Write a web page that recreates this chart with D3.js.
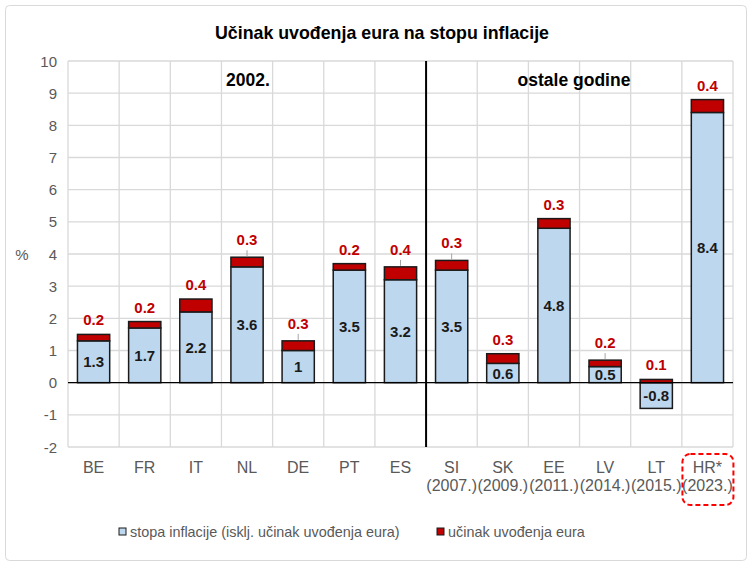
<!DOCTYPE html>
<html>
<head>
<meta charset="utf-8">
<script src="https://cdn.jsdelivr.net/npm/d3@7"></script>
<style>
  body { margin: 0; background: #fff; }
  text { font-family: "Liberation Sans", Arial, sans-serif; }
</style>
</head>
<body>
<svg id="chart_svg"></svg>
<script>
// Data
const countries = ["BE", "FR", "IT", "NL", "DE", "PT", "ES", "SI", "SK", "EE", "LV", "LT", "HR*"];
const years = ["", "", "", "", "", "", "", "(2007.)", "(2009.)", "(2011.)", "(2014.)", "(2015.)", "(2023.)"];
const inflation = [1.3, 1.7, 2.2, 3.6, 1, 3.5, 3.2, 3.5, 0.6, 4.8, 0.5, -0.8, 8.4];
const euroEffect = [0.2, 0.2, 0.4, 0.3, 0.3, 0.2, 0.4, 0.3, 0.3, 0.3, 0.2, 0.1, 0.4];
const withLeader = ["NL", "DE", "ES", "SI", "LV"];
const yTicks = [-2, -1, 0, 1, 2, 3, 4, 5, 6, 7, 8, 9, 10];

const width = 750, height = 564;
const margin = { top: 61, right: 17, bottom: 117, left: 68 };

const svg = d3.select("#chart_svg")
  .attr("width", width)
  .attr("height", height);

// outer frame
svg.append("rect")
  .attr("x", 5.5).attr("y", 5.5)
  .attr("width", width - 9).attr("height", height - 9)
  .attr("rx", 4)
  .attr("fill", "#fff")
  .attr("stroke", "#d9d9d9");

svg.append("text")
  .attr("x", 382).attr("y", 39)
  .attr("text-anchor", "middle")
  .attr("font-size", 17.8)
  .attr("font-weight", "bold")
  .attr("fill", "#000")
  .text("Učinak uvođenja eura na stopu inflacije");

const x = d3.scaleBand()
  .domain(countries)
  .range([margin.left, width - margin.right])
  .paddingInner(0.37)
  .paddingOuter(0.185);

const y = d3.scaleLinear()
  .domain([-2, 10])
  .range([height - margin.bottom, margin.top]);

const g = svg.append("g");

// horizontal gridlines
g.append("g")
  .selectAll("line")
  .data(yTicks)
  .enter().append("line")
  .attr("x1", margin.left).attr("x2", width - margin.right)
  .attr("y1", d => y(d)).attr("y2", d => y(d))
  .attr("stroke", "#d9d9d9")
  .attr("stroke-width", 1.3);

// vertical gridlines at category boundaries
const step = x.step();
const bounds = d3.range(countries.length + 1).map(i => margin.left + i * step);
g.append("g")
  .selectAll("line")
  .data(bounds)
  .enter().append("line")
  .attr("x1", d => d).attr("x2", d => d)
  .attr("y1", y(10)).attr("y2", y(-2))
  .attr("stroke", "#d9d9d9")
  .attr("stroke-width", 1.3);

// y axis labels
g.append("g")
  .selectAll("text")
  .data(yTicks)
  .enter().append("text")
  .attr("x", 57)
  .attr("y", d => y(d) + 5.5)
  .attr("text-anchor", "end")
  .attr("font-size", 15)
  .attr("fill", "#595959")
  .text(d => d);

svg.append("text")
  .attr("x", 22).attr("y", y(4) + 5.5)
  .attr("text-anchor", "middle")
  .attr("font-size", 15)
  .attr("fill", "#595959")
  .text("%");

// stacked bars
const rows = countries.map((c, i) => ({ c, base: inflation[i], eff: euroEffect[i] }));

const bars = g.append("g");
bars.selectAll("rect.base")
  .data(rows)
  .enter().append("rect")
  .attr("class", "base")
  .attr("x", d => x(d.c))
  .attr("width", x.bandwidth())
  .attr("y", d => y(Math.max(0, d.base)))
  .attr("height", d => Math.abs(y(d.base) - y(0)))
  .attr("fill", "#bdd7ee")
  .attr("stroke", "#1a1a1a")
  .attr("stroke-width", 1.5);

bars.selectAll("rect.eff")
  .data(rows)
  .enter().append("rect")
  .attr("class", "eff")
  .attr("x", d => x(d.c))
  .attr("width", x.bandwidth())
  .attr("y", d => y(Math.max(0, d.base) + d.eff))
  .attr("height", d => y(Math.max(0, d.base)) - y(Math.max(0, d.base) + d.eff))
  .attr("fill", "#c00000")
  .attr("stroke", "#1a1a1a")
  .attr("stroke-width", 1.5);

// zero line
g.append("line")
  .attr("x1", margin.left).attr("x2", width - margin.right)
  .attr("y1", y(0)).attr("y2", y(0))
  .attr("stroke", "#000")
  .attr("stroke-width", 1.3);

// divider between 2002 and others
const divX = margin.left + 7 * step;
g.append("line")
  .attr("x1", divX).attr("x2", divX)
  .attr("y1", y(10)).attr("y2", y(-2))
  .attr("stroke", "#000")
  .attr("stroke-width", 2);

g.append("text")
  .attr("x", 248).attr("y", 86)
  .attr("text-anchor", "middle")
  .attr("font-size", 17.5)
  .attr("font-weight", "bold")
  .text("2002.");

g.append("text")
  .attr("x", 574).attr("y", 86)
  .attr("text-anchor", "middle")
  .attr("font-size", 17.5)
  .attr("font-weight", "bold")
  .text("ostale godine");

// base value labels
g.append("g")
  .selectAll("text")
  .data(rows)
  .enter().append("text")
  .attr("x", d => x(d.c) + x.bandwidth() / 2)
  .attr("y", d => (y(d.base) + y(0)) / 2 + 5.5)
  .attr("text-anchor", "middle")
  .attr("font-size", 15)
  .attr("font-weight", "bold")
  .attr("fill", "#1a1a1a")
  .text(d => d.base);

// effect labels with leader lines
const topY = d => y(Math.max(0, d.base) + d.eff);
g.append("g")
  .selectAll("line")
  .data(rows.filter(d => withLeader.includes(d.c)))
  .enter().append("line")
  .attr("x1", d => x(d.c) + x.bandwidth() / 2)
  .attr("x2", d => x(d.c) + x.bandwidth() / 2)
  .attr("y1", d => topY(d) - 1)
  .attr("y2", d => topY(d) - 7)
  .attr("stroke", "#a6a6a6")
  .attr("stroke-width", 1);

g.append("g")
  .selectAll("text")
  .data(rows)
  .enter().append("text")
  .attr("x", d => x(d.c) + x.bandwidth() / 2)
  .attr("y", d => topY(d) - (withLeader.includes(d.c) ? 12 : 9))
  .attr("text-anchor", "middle")
  .attr("font-size", 15)
  .attr("font-weight", "bold")
  .attr("fill", "#c00000")
  .text(d => d.eff);

// x axis labels
const xl = g.append("g");
xl.selectAll("text.c")
  .data(countries)
  .enter().append("text")
  .attr("class", "c")
  .attr("x", d => x(d) + x.bandwidth() / 2)
  .attr("y", 473)
  .attr("text-anchor", "middle")
  .attr("font-size", 16)
  .attr("fill", "#595959")
  .text(d => d);

xl.selectAll("text.yr")
  .data(countries)
  .enter().append("text")
  .attr("class", "yr")
  .attr("x", d => x(d) + x.bandwidth() / 2)
  .attr("y", 491)
  .attr("text-anchor", "middle")
  .attr("font-size", 16)
  .attr("fill", "#595959")
  .text((d, i) => years[i]);

// dashed highlight for HR
svg.append("rect")
  .attr("x", x("HR*") + x.bandwidth() / 2 - 25)
  .attr("y", 454)
  .attr("width", 51)
  .attr("height", 51)
  .attr("rx", 8)
  .attr("fill", "none")
  .attr("stroke", "#ff0000")
  .attr("stroke-width", 2)
  .attr("stroke-dasharray", "5,3");

// legend
const legend = [
  { label: "stopa inflacije (isklj. učinak uvođenja eura)", color: "#bdd7ee", x: 119 },
  { label: "učinak uvođenja eura", color: "#c00000", x: 437 }
];
const lg = svg.append("g").selectAll("g")
  .data(legend)
  .enter().append("g")
  .attr("transform", d => `translate(${d.x},532)`);
lg.append("rect")
  .attr("x", 0).attr("y", -4)
  .attr("width", 7).attr("height", 7)
  .attr("fill", d => d.color)
  .attr("stroke", "#1a1a1a")
  .attr("stroke-width", 1);
lg.append("text")
  .attr("x", 11).attr("y", 5)
  .attr("font-size", 14.4)
  .attr("fill", "#595959")
  .text(d => d.label);
</script>
</body>
</html>
